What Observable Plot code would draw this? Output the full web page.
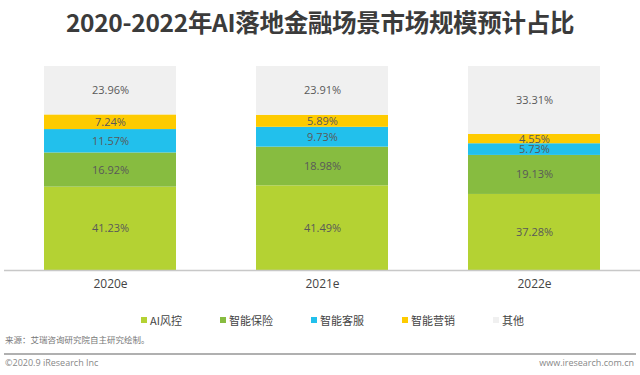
<!DOCTYPE html>
<html>
<head>
<meta charset="utf-8">
<script src="https://cdn.jsdelivr.net/npm/d3@7"></script>
<script src="https://cdn.jsdelivr.net/npm/@observablehq/plot@0.6"></script>
<style>
  html, body { margin: 0; padding: 0; background: #fff; }
  body { width: 640px; height: 375px; position: relative; overflow: hidden;
         font-family: "Noto Sans CJK SC", "Open Sans", sans-serif; }
  #title { position: absolute; top: 4px; left: 0; width: 640px; text-align: center;
           font-size: 24.5px; font-weight: bold; color: #3b3b3b; letter-spacing: -0.3px; }
  #chart { position: absolute; top: 50px; left: 0; }
  #legend { position: absolute; top: 312px; left: 141px; display: flex; gap: 38px;
            font-size: 11px; color: #444; align-items: center; }
  #legend .item { display: flex; align-items: center; gap: 3px; }
  #legend .sw { width: 6px; height: 6px; display: inline-block; }
  #source { position: absolute; top: 333px; left: 5px; font-size: 8.5px; color: #777; }
  #sep { position: absolute; top: 353px; left: 4px; width: 632px; height: 1.5px; background: #b0b0b0; }
  #foot-l { position: absolute; top: 356px; left: 5px; font-size: 9px; color: #888; font-family: "Open Sans", sans-serif; }
  #foot-r { position: absolute; top: 356px; right: 6px; font-size: 9px; color: #888; font-family: "Open Sans", sans-serif; }
</style>
</head>
<body>
<div id="title">2020-2022年AI落地金融场景市场规模预计占比</div>
<div id="chart"></div>
<div id="legend"></div>
<div id="source">来源：艾瑞咨询研究院自主研究绘制。</div>
<div id="sep"></div>
<div id="foot-l">©2020.9 iResearch Inc</div>
<div id="foot-r">www.iresearch.com.cn</div>
<script>
const years = ["2020e", "2021e", "2022e"];
const series = ["AI风控", "智能保险", "智能客服", "智能营销", "其他"];
const colors = ["#b4d233", "#87bc40", "#22c0ec", "#fecb00", "#f0f0f0"];
const aiRisk    = [41.23, 41.49, 37.28];
const insurance = [16.92, 18.98, 19.13];
const service   = [11.57, 9.73, 5.73];
const marketing = [7.24, 5.89, 4.55];
const others    = [23.96, 23.91, 33.31];

const seriesValues = [aiRisk, insurance, service, marketing, others];
const data = [];
series.forEach((s, i) => years.forEach((y, j) => data.push({year: y, series: s, value: seriesValues[i][j]})));

const stackOpts = {x: "year", y: "value", z: "series", offset: "normalize", order: series};

const chart = Plot.plot({
  width: 640,
  height: 250,
  marginTop: 16,
  marginBottom: 30,
  marginLeft: 4,
  marginRight: 0,
  style: {fontFamily: "'Open Sans', 'Noto Sans CJK SC', sans-serif", background: "transparent"},
  x: {domain: years, paddingInner: 0.377, paddingOuter: 0.1885, align: 0.5, label: null, tickSize: 0, tickPadding: 9},
  y: {axis: null},
  color: {domain: series, range: colors},
  marks: [
    Plot.barY(data, Plot.stackY({...stackOpts, fill: "series", inset: 0})),
    Plot.text(data, Plot.stackY({...stackOpts, text: d => d.value.toFixed(2) + "%",
      fill: "#595959", fontSize: 11})),
    Plot.ruleY([0], {stroke: "#c8c8c8", strokeWidth: 1.5})
  ]
});
chart.querySelectorAll("[aria-label='x-axis tick label'] text").forEach(t => {
  t.setAttribute("font-size", "12"); t.setAttribute("fill", "#444");
});
const xl = chart.querySelector("[aria-label='x-axis tick label']");
if (xl) { xl.setAttribute("font-size", "12"); xl.setAttribute("fill", "#444"); }
document.getElementById("chart").appendChild(chart);

const color = chart.scale("color");
const legend = document.getElementById("legend");
series.forEach((s, i) => {
  const item = document.createElement("span");
  item.className = "item";
  const sw = document.createElement("span");
  sw.className = "sw";
  sw.style.background = color.range[i];
  item.appendChild(sw);
  item.appendChild(document.createTextNode(s));
  legend.appendChild(item);
});
</script>
</body>
</html>
